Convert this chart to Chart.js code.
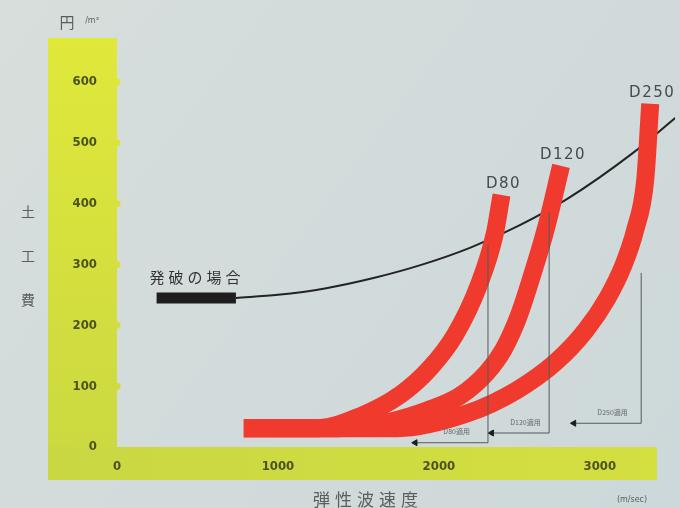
<!DOCTYPE html>
<html>
<head>
<meta charset="utf-8">
<script src="https://cdn.jsdelivr.net/npm/chart.js@4.4.1/dist/chart.umd.min.js"></script>
<style>
  body { margin: 0; background: #d2dbdb; }
  #chart { display: block; }
</style>
</head>
<body>
<canvas id="chart" width="680" height="508"></canvas>
<script>
// ===== DATA =====
const xTicks = [0, 1000, 2000, 3000];
const yTicks = [0, 100, 200, 300, 400, 500, 600];

// 発破の場合 (thick bar + cost curve)
const blastBarX = [246, 739];
const blastBarY = [245, 245];
const blastX = [739, 1000, 1300, 1600, 1900, 2200, 2500, 2800, 3200, 3470];
const blastY = [245, 250, 261, 278, 300, 328, 364, 408, 482, 541];

// ripper curves
const d80X = [788, 1250, 1515, 1761, 1946, 2100, 2248, 2346, 2389];
const d80Y = [31, 31, 51, 86, 130, 184, 266, 349, 414];
const d120X = [788, 1373, 1700, 1927, 2131, 2297, 2401, 2494, 2580, 2666, 2759];
const d120Y = [31, 31, 42, 60, 84, 122, 160, 214, 283, 360, 462];
const d250X = [788, 1743, 2174, 2482, 2728, 2913, 3048, 3147, 3220, 3282, 3313];
const d250Y = [31, 31, 55, 93, 140, 192, 245, 299, 357, 439, 564];
const ripperNames = ['D80', 'D120', 'D250'];

// limit markers (vertical drop + arrow to the left)
const limitX = [2305, 2685, 3257];
const limitTop = [332, 386, 286];
const limitBottom = [7, 23, 39];
const arrowX = [1853, 2328, 2839];
const limitLabels = ['D80適用', 'D120適用', 'D250適用'];

const RED = '#f03a2e';
const zip = (xs, ys) => xs.map((v, i) => ({ x: v, y: ys[i] }));

// ===== DATASETS =====
const ripperSets = [[d80X, d80Y], [d120X, d120Y], [d250X, d250Y]].map(([xs, ys], i) => ({
  label: ripperNames[i],
  data: zip(xs, ys),
  borderColor: RED,
  borderWidth: 18,
  borderCapStyle: 'butt',
  cubicInterpolationMode: 'monotone',
  pointRadius: 0,
  order: 2
}));

const limitSets = limitX.map((lx, i) => ({
  label: limitLabels[i],
  data: [
    { x: arrowX[i], y: limitBottom[i] },
    { x: lx, y: limitBottom[i] },
    { x: lx, y: limitTop[i] }
  ],
  borderColor: '#555a5a',
  borderWidth: 1,
  tension: 0,
  pointStyle: 'triangle',
  rotation: 270,
  pointRadius: [3.5, 0, 0],
  pointBackgroundColor: '#1c1c1c',
  pointBorderColor: '#1c1c1c',
  order: 0
}));

const datasets = [
  ...limitSets,
  ...ripperSets,
  {
    label: '発破の場合',
    data: zip(blastBarX, blastBarY),
    borderColor: '#1e1e1e',
    borderWidth: 11,
    borderCapStyle: 'butt',
    pointRadius: 0,
    order: 4
  },
  {
    label: '発破カーブ',
    data: zip(blastX, blastY),
    borderColor: '#232323',
    borderWidth: 2,
    cubicInterpolationMode: 'monotone',
    pointRadius: 0,
    order: 5
  }
];

// ===== PAPER / BANDS / TEXT =====
const paper = {
  id: 'paper',
  beforeDraw(chart) {
    const { ctx, chartArea: a, scales: { y } } = chart;
    ctx.save();
    const bg = ctx.createLinearGradient(0, 0, chart.width, chart.height);
    bg.addColorStop(0, '#d7dedc');
    bg.addColorStop(1, '#cdd8da');
    ctx.fillStyle = bg;
    ctx.fillRect(0, 0, chart.width, chart.height);

    // vertical yellow band with bumps at the ticks
    const vg = ctx.createLinearGradient(0, a.top, 0, 480);
    vg.addColorStop(0, '#e0e83a');
    vg.addColorStop(1, '#cad841');
    ctx.fillStyle = vg;
    ctx.fillRect(48, a.top, a.left - 48, 480 - a.top);
    yTicks.slice(1).forEach(v => {
      ctx.beginPath();
      ctx.arc(a.left, y.getPixelForValue(v), 3.5, -Math.PI / 2, Math.PI / 2);
      ctx.fill();
    });

    // horizontal band
    const hg = ctx.createLinearGradient(48, 0, a.right, 0);
    hg.addColorStop(0, '#c9d743');
    hg.addColorStop(1, '#d4e040');
    ctx.fillStyle = hg;
    ctx.fillRect(48, a.bottom, a.right - 18 - 48, 480 - a.bottom);
    ctx.restore();
  },
  afterDraw(chart) {
    const { ctx, scales: { x, y } } = chart;
    ctx.save();
    ctx.textAlign = 'center';
    ctx.textBaseline = 'middle';

    // unit at top
    ctx.fillStyle = '#5a5f5c';
    ctx.font = '15px "Noto Sans CJK JP"';
    ctx.fillText('円', 67, 22);
    ctx.font = '8px "DejaVu Sans"';
    ctx.fillText('/m³', 92, 21);

    // y title, stacked
    ctx.font = '14px "Noto Sans CJK JP"';
    ['土', '工', '費'].forEach((c, i) => ctx.fillText(c, 28, 212 + i * 44));

    // x title
    ctx.font = '17px "Noto Sans CJK JP"';
    ctx.letterSpacing = '5px';
    ctx.fillText('弾性波速度', 368, 500);
    ctx.letterSpacing = '0px';
    ctx.font = '8px "DejaVu Sans"';
    ctx.fillText('(m/sec)', 632, 500);

    // blasting label
    ctx.fillStyle = '#333';
    ctx.font = '15px "Noto Sans CJK JP"';
    ctx.letterSpacing = '4px';
    ctx.fillText('発破の場合', 197, 277);

    // ripper names above curve tops
    ctx.fillStyle = '#474a4a';
    ctx.font = '15px "DejaVu Sans"';
    ctx.letterSpacing = '1.5px';
    [[d80X, d80Y], [d120X, d120Y], [d250X, d250Y]].forEach(([xs, ys], i) => {
      const n = xs.length - 1;
      ctx.fillText(ripperNames[i], x.getPixelForValue(xs[n]) + 2, y.getPixelForValue(ys[n]) - 11);
    });
    ctx.letterSpacing = '0px';

    // small labels over the arrows
    ctx.fillStyle = '#666a6a';
    ctx.font = '7px "Noto Sans CJK JP"';
    limitX.forEach((lx, i) => {
      const mx = (x.getPixelForValue(lx) + x.getPixelForValue(arrowX[i])) / 2 + 5;
      ctx.fillText(limitLabels[i], mx, y.getPixelForValue(limitBottom[i]) - 11);
    });
    ctx.restore();
  }
};

// ===== CHART =====
const tickFont = { family: '"Liberation Sans Narrow", "DejaVu Sans Condensed", sans-serif', size: 13, weight: 'bold' };

new Chart(document.getElementById('chart'), {
  type: 'line',
  data: { datasets },
  plugins: [paper],
  options: {
    responsive: false,
    animation: false,
    layout: { padding: { top: 38, right: 0, bottom: 28, left: 0 } },
    plugins: { legend: { display: false }, tooltip: { enabled: false } },
    scales: {
      x: {
        type: 'linear',
        min: 0,
        max: 3467,
        afterBuildTicks: s => { s.ticks = xTicks.map(v => ({ value: v })); },
        afterFit: s => { s.height = 33; },
        grid: { display: false },
        border: { display: false },
        ticks: { padding: 4, color: '#4b5122', font: tickFont, callback: v => String(v) }
      },
      y: {
        type: 'linear',
        min: 0,
        max: 672,
        afterBuildTicks: s => { s.ticks = yTicks.map(v => ({ value: v })); },
        afterFit: s => { s.width = 117; },
        grid: { display: false },
        border: { display: false },
        ticks: { padding: 12, color: '#4b5122', font: tickFont, callback: v => String(v) }
      }
    }
  }
});
</script>
</body>
</html>
